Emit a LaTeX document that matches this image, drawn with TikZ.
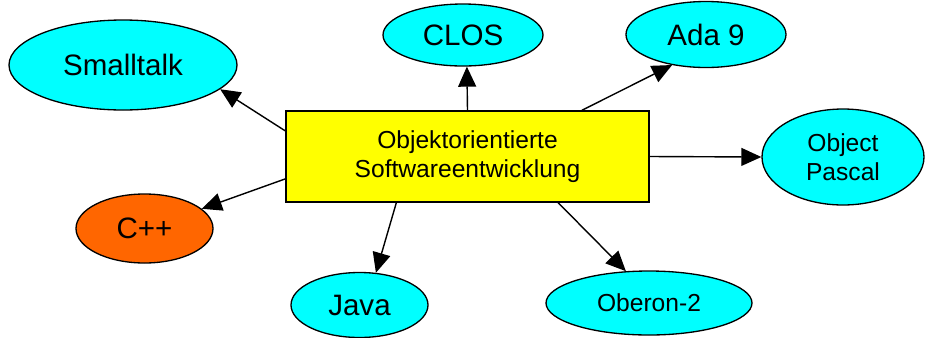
\documentclass[tikz,border=0pt]{standalone}
\usepackage{fontspec}
\setmainfont{Liberation Sans}
\usetikzlibrary{shapes.geometric,arrows.meta}
\definecolor{langcyan}{RGB}{0,255,255}
\definecolor{topicyellow}{RGB}{255,255,0}
\definecolor{cpporange}{RGB}{255,102,0}
\newcommand{\bigtext}{\fontsize{16.8}{20}\selectfont}
\newcommand{\smalltext}{\fontsize{14}{16.2}\selectfont}

\begin{document}
\begin{tikzpicture}
        \useasboundingbox (0,0) rectangle (18.5,6.74);
        \begin{scope}[every node/.style={rectangle,draw=black,line width=0.8pt,align=center,inner sep=0pt}]
            \node (main) [fill=topicyellow, font=\smalltext, minimum width=7.26cm, minimum height=1.82cm] at (9.35, 3.61) {Objektorientierte\\Softwareentwicklung};
        \end{scope}
        \begin{scope}[every node/.style={ellipse,draw=black,line width=0.75pt,fill=langcyan,align=center,inner sep=0pt,font=\bigtext}]
            \node (smalltalk) [minimum width=4.56cm, minimum height=1.8cm] at (2.46, 5.44) {Smalltalk};
            \node (clos) [minimum width=3.2cm, minimum height=1.24cm] at (9.26, 6.04) {CLOS};
            \node (ada) [minimum width=3.2cm, minimum height=1.32cm] at (14.12, 6.05) {Ada 9};
            \node (pascal) [font=\smalltext, minimum width=3.24cm, minimum height=1.92cm] at (16.86, 3.6) {Object\\Pascal};
            \node (cpp) [fill=cpporange, minimum width=2.74cm, minimum height=1.38cm] at (2.89, 2.17) {C++};
            \node (java) [minimum width=2.74cm, minimum height=1.3cm] at (7.19, 0.64) {Java};
            \node (oberon) [font=\smalltext, minimum width=4.12cm, minimum height=1.28cm] at (12.98, 0.68) {Oberon-2};
        \end{scope}
        \path [-{Triangle[length=11.4pt,width=10.2pt]}] (main.172.6) edge[draw=black,line width=0.8pt] (smalltalk.-14.3);
        \path [-{Triangle[length=11.4pt,width=10.2pt]}] (main.north) edge[draw=black,line width=0.8pt] (clos.-83);
        \path [-{Triangle[length=11.4pt,width=10.2pt]}] (main.22.6) edge[draw=black,line width=0.8pt] (ada.222);
        \path [-{Triangle[length=11.4pt,width=10.2pt]}] (main.east) edge[draw=black,line width=0.8pt] (pascal.west);
        \path [-{Triangle[length=11.4pt,width=10.2pt]}] (main.187.4) edge[draw=black,line width=0.8pt] (cpp.19.4);
        \path [-{Triangle[length=11.4pt,width=10.2pt]}] (main.213.6) edge[draw=black,line width=0.8pt] (java.63.4);
        \path [-{Triangle[length=11.4pt,width=10.2pt]}] (main.333.3) edge[draw=black,line width=0.8pt] (oberon.126);
    \end{tikzpicture}
\end{document}
